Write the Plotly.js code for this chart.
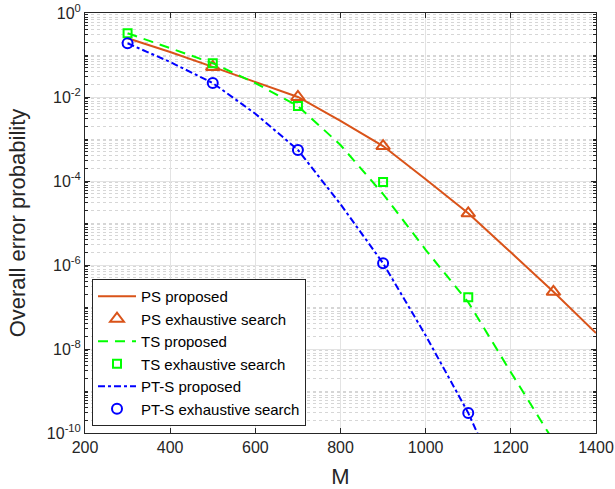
<!DOCTYPE html>
<html>
<head>
<meta charset="utf-8">
<script src="https://cdn.plot.ly/plotly-3.0.1.min.js"></script>
<style>html,body{margin:0;padding:0;background:#fff;}#chart{width:615px;height:489px;}</style>
</head>
<body>
<div id="chart"></div>
<script>
// M values for the proposed (analytical) curves
const mLine = [300, 400, 500, 600, 700, 800, 900, 1000, 1100, 1200, 1300, 1400];
const psProposed  = [0.25, 0.118, 0.052, 0.023, 0.0100, 2.7e-3, 6.8e-4, 1.1e-4, 1.7e-5, 2.0e-6, 2.3e-7, 2.4e-8];
const tsProposed  = [0.33, 0.147, 0.064, 0.0215, 6.1e-3, 7.2e-4, 4.9e-5, 2.3e-6, 1.3e-7, 2.8e-9, 6.5e-11, null];
const ptsProposed = [0.19, 0.068, 0.0215, 4.0e-3, 5.5e-4, 2.8e-5, 1.1e-6, 2.1e-8, 3.0e-10, 1.7e-12, null, null];

// exhaustive search points
const mPsExh = [500, 700, 900, 1100, 1300];
const psExhaustive = [0.052, 0.0100, 6.8e-4, 1.7e-5, 2.3e-7];
const mTsExh = [300, 500, 700, 900, 1100];
const tsExhaustive = [0.33, 0.064, 6.1e-3, 9.5e-5, 1.7e-7];
const mPtsExh = [300, 500, 700, 900, 1100];
const ptsExhaustive = [0.19, 0.0215, 5.5e-4, 1.1e-6, 3.0e-10];

const seriesNames = ['PS proposed', 'PS exhaustive search', 'TS proposed', 'TS exhaustive search', 'PT-S proposed', 'PT-S exhaustive search'];
const xTicks = [200, 400, 600, 800, 1000, 1200, 1400];
const yTickExp = [0, -2, -4, -6, -8, -10];

const cPS = '#D95319', cTS = '#00FF00', cPTS = '#0000FF';

const traces = [
  {x: mLine, y: psProposed, name: seriesNames[0], mode: 'lines', line: {color: cPS, width: 2}},
  {x: mPsExh, y: psExhaustive, name: seriesNames[1], mode: 'markers',
   marker: {symbol: 'triangle-up-open', size: 12, color: cPS, line: {color: cPS, width: 2}}},
  {x: mLine, y: tsProposed, name: seriesNames[2], mode: 'lines', line: {color: cTS, width: 2, dash: '10px,7px'}},
  {x: mTsExh, y: tsExhaustive, name: seriesNames[3], mode: 'markers',
   marker: {symbol: 'square-open', size: 8, color: cTS, line: {color: cTS, width: 2}}},
  {x: mLine, y: ptsProposed, name: seriesNames[4], mode: 'lines', line: {color: cPTS, width: 2, dash: '7px,3px,3px,3px'}},
  {x: mPtsExh, y: ptsExhaustive, name: seriesNames[5], mode: 'markers',
   marker: {symbol: 'circle-open', size: 10, color: cPTS, line: {color: cPTS, width: 2}}}
];

// minor log ticks (2..9 per decade, plus un-labelled decades)
const minorVals = [];
for (let e = -10; e < 0; e++) {
  for (let k = 1; k <= 9; k++) {
    if (k === 1 && yTickExp.indexOf(e) !== -1) continue;
    minorVals.push(k * Math.pow(10, e));
  }
}

const fontFam = '"Liberation Sans", Arial, Helvetica, sans-serif';
const layout = {
  width: 615, height: 489,
  margin: {l: 85, r: 19, t: 13, b: 56},
  paper_bgcolor: '#fff', plot_bgcolor: '#fff',
  font: {family: fontFam, color: '#262626'},
  showlegend: true,
  xaxis: {
    range: [200, 1400], tickmode: 'array', tickvals: xTicks, ticktext: xTicks.map(String),
    ticks: 'inside', ticklen: 5, tickcolor: '#262626', mirror: 'ticks',
    showline: true, linecolor: '#262626', linewidth: 1,
    showgrid: true, gridcolor: '#e3e3e3', gridwidth: 1, zeroline: false,
    tickfont: {size: 16, color: '#262626'},
    title: {text: 'M', font: {size: 22, color: '#262626'}, standoff: 16}
  },
  yaxis: {
    type: 'log', range: [-10, 0],
    tickmode: 'array', tickvals: yTickExp.map(e => Math.pow(10, e)),
    ticktext: yTickExp.map(e => '10<sup>' + (e < 0 ? '-' + (-e) : e) + '</sup>'),
    ticks: 'inside', ticklen: 5, tickcolor: '#262626', mirror: 'ticks',
    showline: true, linecolor: '#262626', linewidth: 1,
    showgrid: true, gridcolor: '#e3e3e3', gridwidth: 1, zeroline: false,
    tickfont: {size: 16, color: '#262626'},
    minor: {tickmode: 'array', tickvals: minorVals, ticks: 'inside', ticklen: 3, tickcolor: '#262626',
            showgrid: true, gridcolor: '#d6d6d6', griddash: 'dot', gridwidth: 1},
    title: {text: 'Overall error probability', font: {size: 22, color: '#262626'}, standoff: 15}
  },
  legend: {
    x: 0.0137, y: 0.0167, xanchor: 'left', yanchor: 'bottom',
    bgcolor: '#ffffff', bordercolor: '#262626', borderwidth: 1,
    font: {size: 15, color: '#000000', family: fontFam},
    itemwidth: 38, tracegroupgap: 0
  }
};

Plotly.newPlot('chart', traces, layout, {staticPlot: true, displayModeBar: false});
</script>
</body>
</html>
